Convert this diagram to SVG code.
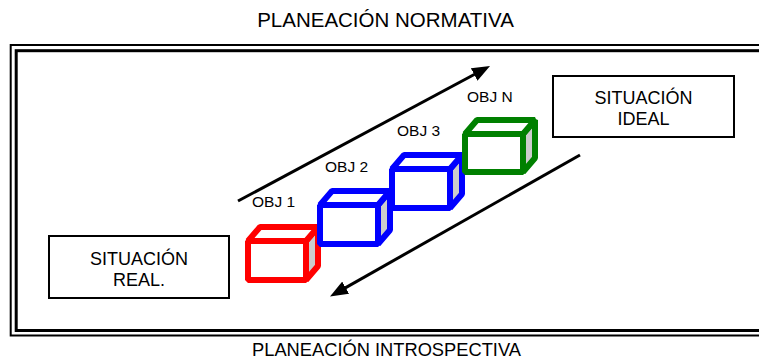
<svg xmlns="http://www.w3.org/2000/svg" width="759" height="360" viewBox="0 0 759 360">
<style>
text{font-family:"Liberation Sans",Arial,sans-serif;fill:#000}
.title{font-size:18.3px}
.box{fill:#fff;stroke:#000;stroke-width:2}
.boxt{font-size:18px}
.obj{font-size:15.5px}
.cube polygon,.cube rect{stroke-width:6;stroke-linejoin:bevel}
.face{fill:#fff}
.side{fill:#cccccc}
.arrow{stroke:#000;stroke-width:3;fill:none}
</style>
<defs>
<marker id="ah" markerUnits="userSpaceOnUse" viewBox="0 0 18 14" markerWidth="18" markerHeight="14" refX="8" refY="7" orient="auto">
<path d="M0,0 L18,7 L0,14 z" fill="#000"/>
</marker>
</defs>
<rect width="759" height="360" fill="#fff"/>
<text class="title" x="385.5" y="27" text-anchor="middle" style="font-size:20.5px">PLANEACIÓN NORMATIVA</text>
<text class="title" x="386.5" y="356" text-anchor="middle">PLANEACIÓN INTROSPECTIVA</text>
<g id="frame">
<rect x="10.7" y="45" width="760" height="290.5" fill="none" stroke="#000" stroke-width="2"/>
<rect x="16.2" y="50.7" width="760" height="279.8" fill="none" stroke="#000" stroke-width="3"/>
</g>
<g id="real">
<rect class="box" x="49" y="236" width="180" height="62"/>
<text class="boxt" x="139" y="265" text-anchor="middle">SITUACIÓN</text>
<text class="boxt" x="139" y="286" text-anchor="middle">REAL.</text>
</g>
<g id="ideal">
<rect class="box" x="553" y="76" width="181" height="61"/>
<text class="boxt" x="643.5" y="104" text-anchor="middle">SITUACIÓN</text>
<text class="boxt" x="643.5" y="125" text-anchor="middle">IDEAL</text>
</g>
<g id="connectors">
<line class="arrow" x1="238" y1="201" x2="481.2" y2="70.7" marker-end="url(#ah)"/>
<line class="arrow" x1="580" y1="155" x2="338.7" y2="291.6" marker-end="url(#ah)"/>
</g>
<g id="obj1" class="cube" stroke="#ff0000">
<polygon class="side" points="306,241 318,227 318,266 306,280"/>
<polygon class="face" points="248,241 260,227 318,227 306,241"/>
<rect class="face" x="248" y="241" width="58" height="39"/>
<text class="obj" x="252" y="207" stroke="none">OBJ 1</text>
</g>
<g id="obj2" class="cube" stroke="#0000ff">
<polygon class="side" points="378,205 390,191 390,230 378,244"/>
<polygon class="face" points="320,205 332,191 390,191 378,205"/>
<rect class="face" x="320" y="205" width="58" height="39"/>
<text class="obj" x="325" y="172" stroke="none">OBJ 2</text>
</g>
<g id="obj3" class="cube" stroke="#0000ff">
<polygon class="side" points="450,169 462,155 462,194 450,208"/>
<polygon class="face" points="392,169 404,155 462,155 450,169"/>
<rect class="face" x="392" y="169" width="58" height="39"/>
<text class="obj" x="397" y="136" stroke="none">OBJ 3</text>
</g>
<g id="objN" class="cube" stroke="#008000">
<polygon class="side" points="523,134 535,120 535,158 523,172"/>
<polygon class="face" points="465,134 477,120 535,120 523,134"/>
<rect class="face" x="465" y="134" width="58" height="38"/>
<text class="obj" x="467" y="102" stroke="none">OBJ N</text>
</g>
</svg>
